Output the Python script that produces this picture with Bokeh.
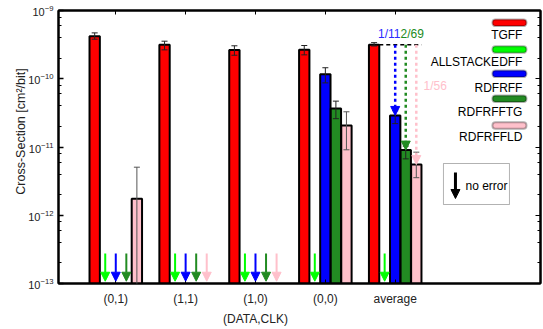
import math
from bokeh.plotting import figure
from bokeh.models import (ColumnDataSource, Whisker, TeeHead, Arrow, NormalHead, Label,
                          BoxAnnotation, FixedTicker, LogAxis, LinearAxis, Range1d,
                          CustomJSTickFormatter, LogTicker, LogTickFormatter)
from bokeh.embed import file_html
from bokeh.resources import INLINE

# ---------------- data ----------------
categories = ["(0,1)", "(1,1)", "(1,0)", "(0,0)", "average"]
series = ["TGFF", "ALLSTACKEDFF", "RDFRFF", "RDFRFFTG", "RDFRFFLD"]
colors = ["#ff0000", "#00ff00", "#0000ff", "#228b22", "#ffc0cb"]

# cross-section values [cm^2/bit]; None = no error observed
tgff        = [4.20e-10, 3.14e-10, 2.63e-10, 2.66e-10, 3.14e-10]
tgff_lo     = [3.80e-10, 2.65e-10, 2.21e-10, 2.24e-10, 3.02e-10]
tgff_hi     = [4.70e-10, 3.55e-10, 3.04e-10, 3.07e-10, 3.38e-10]
allstacked    = [None, None, None, None, None]
allstacked_lo = [None, None, None, None, None]
allstacked_hi = [None, None, None, None, None]
rdfrff      = [None, None, None, 1.16e-10, 2.90e-11]
rdfrff_lo   = [None, None, None, 8.70e-11, 2.20e-11]
rdfrff_hi   = [None, None, None, 1.45e-10, 3.40e-11]
rdfrfftg    = [None, None, None, 3.66e-11, 9.00e-12]
rdfrfftg_lo = [None, None, None, 2.60e-11, 6.70e-12]
rdfrfftg_hi = [None, None, None, 4.70e-11, 1.03e-11]
rdfrffld    = [1.74e-12, None, None, 2.07e-11, 5.55e-12]
rdfrffld_lo = [1.00e-15, None, None, 9.10e-12, 3.55e-12]
rdfrffld_hi = [5.06e-12, None, None, 3.28e-11, 8.40e-12]

ratio_labels = ["", "", "1/11", "2/69", "1/56"]
x_title = "(DATA,CLK)"
y_title = "Cross-Section [cm\u00b2/bit]"

values = [tgff, allstacked, rdfrff, rdfrfftg, rdfrffld]
lows = [tgff_lo, allstacked_lo, rdfrff_lo, rdfrfftg_lo, rdfrffld_lo]
highs = [tgff_hi, allstacked_hi, rdfrff_hi, rdfrfftg_hi, rdfrffld_hi]

offsets = [-0.302, -0.151, 0.0, 0.151, 0.302]
bar_w = 0.148
FONT = "Liberation Sans"

# helpers mapping page pixels to data (for annotation placement only)
X0, PXU = 115.3, 69.86
def xd(px):
    return 1 + (px - X0) / PXU
def yd(py):
    return 10 ** (-9 - (py - 10) / 68.25)

p = figure(frame_width=482, frame_height=273, y_axis_type="log",
           x_range=Range1d(0.18, 7.08), y_range=Range1d(1e-13, 1e-9),
           output_backend="svg", toolbar_location=None,
           min_border_left=58, min_border_right=3, min_border_top=10, min_border_bottom=46)
p.background_fill_color = "white"
p.border_fill_color = "white"
p.outline_line_color = "black"
p.outline_line_width = 2
p.xgrid.visible = False
p.ygrid.visible = False

# bars, error bars, "no error" arrows
for s in range(5):
    xs, tops, lo, hi, ax = [], [], [], [], []
    for i in range(5):
        v = values[s][i]
        x = i + 1 + offsets[s]
        if v is None:
            ax.append(x)
        else:
            xs.append(x); tops.append(v); lo.append(lows[s][i]); hi.append(highs[s][i])
    if xs:
        src = ColumnDataSource(dict(x=xs, top=tops, lo=lo, hi=hi))
        p.vbar(x="x", top="top", bottom=1e-15, width=bar_w, source=src,
               fill_color=colors[s], line_color="black", line_width=2)
        ecol = "#555555" if s == 4 else "#222222"
        w = Whisker(base="x", upper="hi", lower="lo", source=src, line_color=ecol, line_width=1,
                    upper_head=TeeHead(size=6, line_color=ecol, line_width=1),
                    lower_head=TeeHead(size=6, line_color=ecol, line_width=1), level="annotation")
        p.add_layout(w)
    if ax:
        asrc = ColumnDataSource(dict(x=ax, y0=[2.75e-13] * len(ax), y1=[1.08e-13] * len(ax)))
        p.add_layout(Arrow(x_start="x", y_start="y0", x_end="x", y_end="y1", source=asrc,
                           line_color=colors[s], line_width=2,
                           end=NormalHead(size=9, fill_color=colors[s], line_color=colors[s])))

# reduction arrows on "average"
avg_i = 4
ref = tgff[avg_i]
p.segment(x0=[avg_i + 1 + offsets[0] + bar_w / 2], x1=[avg_i + 1 + offsets[4] + bar_w / 2],
          y0=[ref], y1=[ref], line_color="black", line_width=1.5, line_dash="4 3")
for s in (2, 3, 4):
    x = avg_i + 1 + offsets[s]
    asrc = ColumnDataSource(dict(x=[x], y0=[ref], y1=[values[s][avg_i]]))
    p.add_layout(Arrow(x_start="x", y_start="y0", x_end="x", y_end="y1", source=asrc,
                       line_color=colors[s], line_width=2.5, line_dash="3 3",
                       end=NormalHead(size=9, fill_color=colors[s], line_color=colors[s])))

p.add_layout(Label(x=xd(400), y=yd(33), text=ratio_labels[2], text_align="right", text_baseline="middle",
                   text_color="#2a2aff", text_font=FONT, text_font_size="12px"))
p.add_layout(Label(x=xd(400), y=yd(33), text=ratio_labels[3], text_align="left", text_baseline="middle",
                   text_color="#228b22", text_font=FONT, text_font_size="12px"))
p.add_layout(Label(x=xd(423), y=yd(85), text=ratio_labels[4], text_align="left", text_baseline="middle",
                   text_color="#ffc0cb", text_font=FONT, text_font_size="12px"))

# legend (boxes above right-aligned labels)
box_y = [22.3, 49.0, 73.3, 98.3, 125.0]
txt_y = [34.0, 61.7, 87.3, 111.7, 136.0]
for s in range(5):
    p.add_layout(BoxAnnotation(left=xd(492), right=xd(526), top=yd(box_y[s] - 3.3), bottom=yd(box_y[s] + 3.3),
                               fill_color=colors[s], fill_alpha=1, line_color="black", line_width=2,
                               border_radius=3, level="annotation"))
    p.add_layout(Label(x=xd(522), y=yd(txt_y[s]), text=series[s], text_align="right", text_baseline="middle",
                       text_font=FONT, text_font_size="12px", text_color="black"))

# "no error" key
p.add_layout(BoxAnnotation(left=xd(443), right=xd(509), top=yd(163), bottom=yd(204),
                           fill_color="white", fill_alpha=1, line_color="black", line_width=1,
                           level="annotation"))
ksrc = ColumnDataSource(dict(x=[xd(455)], y0=[yd(172)], y1=[yd(198)]))
p.add_layout(Arrow(x_start="x", y_start="y0", x_end="x", y_end="y1", source=ksrc,
                   line_color="black", line_width=3,
                   end=NormalHead(size=9, fill_color="black", line_color="black")))
p.add_layout(Label(x=xd(465), y=yd(185), text="no error", text_align="left", text_baseline="middle",
                   text_font=FONT, text_font_size="12px", text_color="black"))

# axes
ya = p.yaxis[0]
ya.ticker = LogTicker(desired_num_ticks=5)
ya.formatter = LogTickFormatter()
ya.major_label_text_font = FONT
ya.major_label_text_font_size = "11px"
ya.major_label_text_color = "#222222"
ya.major_tick_in = 5; ya.major_tick_out = 0
ya.minor_tick_in = 3; ya.minor_tick_out = 0
ya.axis_line_width = 2
ya.major_tick_line_width = 1.5
ya.major_label_standoff = 5

# y title as an extra left axis with a single tick at the title position
ytitle_axis = LogAxis(ticker=FixedTicker(ticks=[yd(131)], minor_ticks=[]),
                      formatter=CustomJSTickFormatter(code="return %r" % y_title),
                      major_label_orientation="vertical", major_label_standoff=-8,
                      major_label_text_font=FONT, major_label_text_font_size="12.5px",
                      major_label_text_color="#222222",
                      axis_line_color=None, major_tick_line_color=None, minor_tick_line_color=None)
p.add_layout(ytitle_axis, "left")

yr = LogAxis(ticker=LogTicker(desired_num_ticks=5), formatter=CustomJSTickFormatter(code="return ''"),
             major_tick_in=5, major_tick_out=0, minor_tick_in=3, minor_tick_out=0,
             axis_line_width=2, major_label_standoff=0, major_label_text_font_size="0px")
p.add_layout(yr, "right")

xa = p.xaxis[0]
xa.ticker = FixedTicker(ticks=[1, 2, 3, 4, 5], minor_ticks=[])
xa.major_label_overrides = {i + 1: c for i, c in enumerate(categories)}
xa.major_label_text_font = FONT
xa.major_label_text_font_size = "12px"
xa.major_label_text_color = "#222222"
xa.major_tick_in = 4; xa.major_tick_out = 0
xa.minor_tick_in = 0; xa.minor_tick_out = 0
xa.axis_line_width = 2
xa.major_label_standoff = 8

xtitle_axis = LinearAxis(ticker=FixedTicker(ticks=[3], minor_ticks=[]),
                         formatter=CustomJSTickFormatter(code="return %r" % x_title),
                         major_label_standoff=-3, major_label_text_font=FONT,
                         major_label_text_font_size="12px", major_label_text_color="#222222",
                         axis_line_color=None, major_tick_line_color=None, minor_tick_line_color=None)
p.add_layout(xtitle_axis, "below")

xt = LinearAxis(ticker=FixedTicker(ticks=[1, 2, 3, 4, 5], minor_ticks=[]),
                formatter=CustomJSTickFormatter(code="return ''"),
                major_tick_in=4, major_tick_out=0, minor_tick_in=0, minor_tick_out=0,
                axis_line_width=2, major_label_standoff=0, major_label_text_font_size="0px")
p.add_layout(xt, "above")

open("out.html", "w").write(file_html(p, INLINE))
